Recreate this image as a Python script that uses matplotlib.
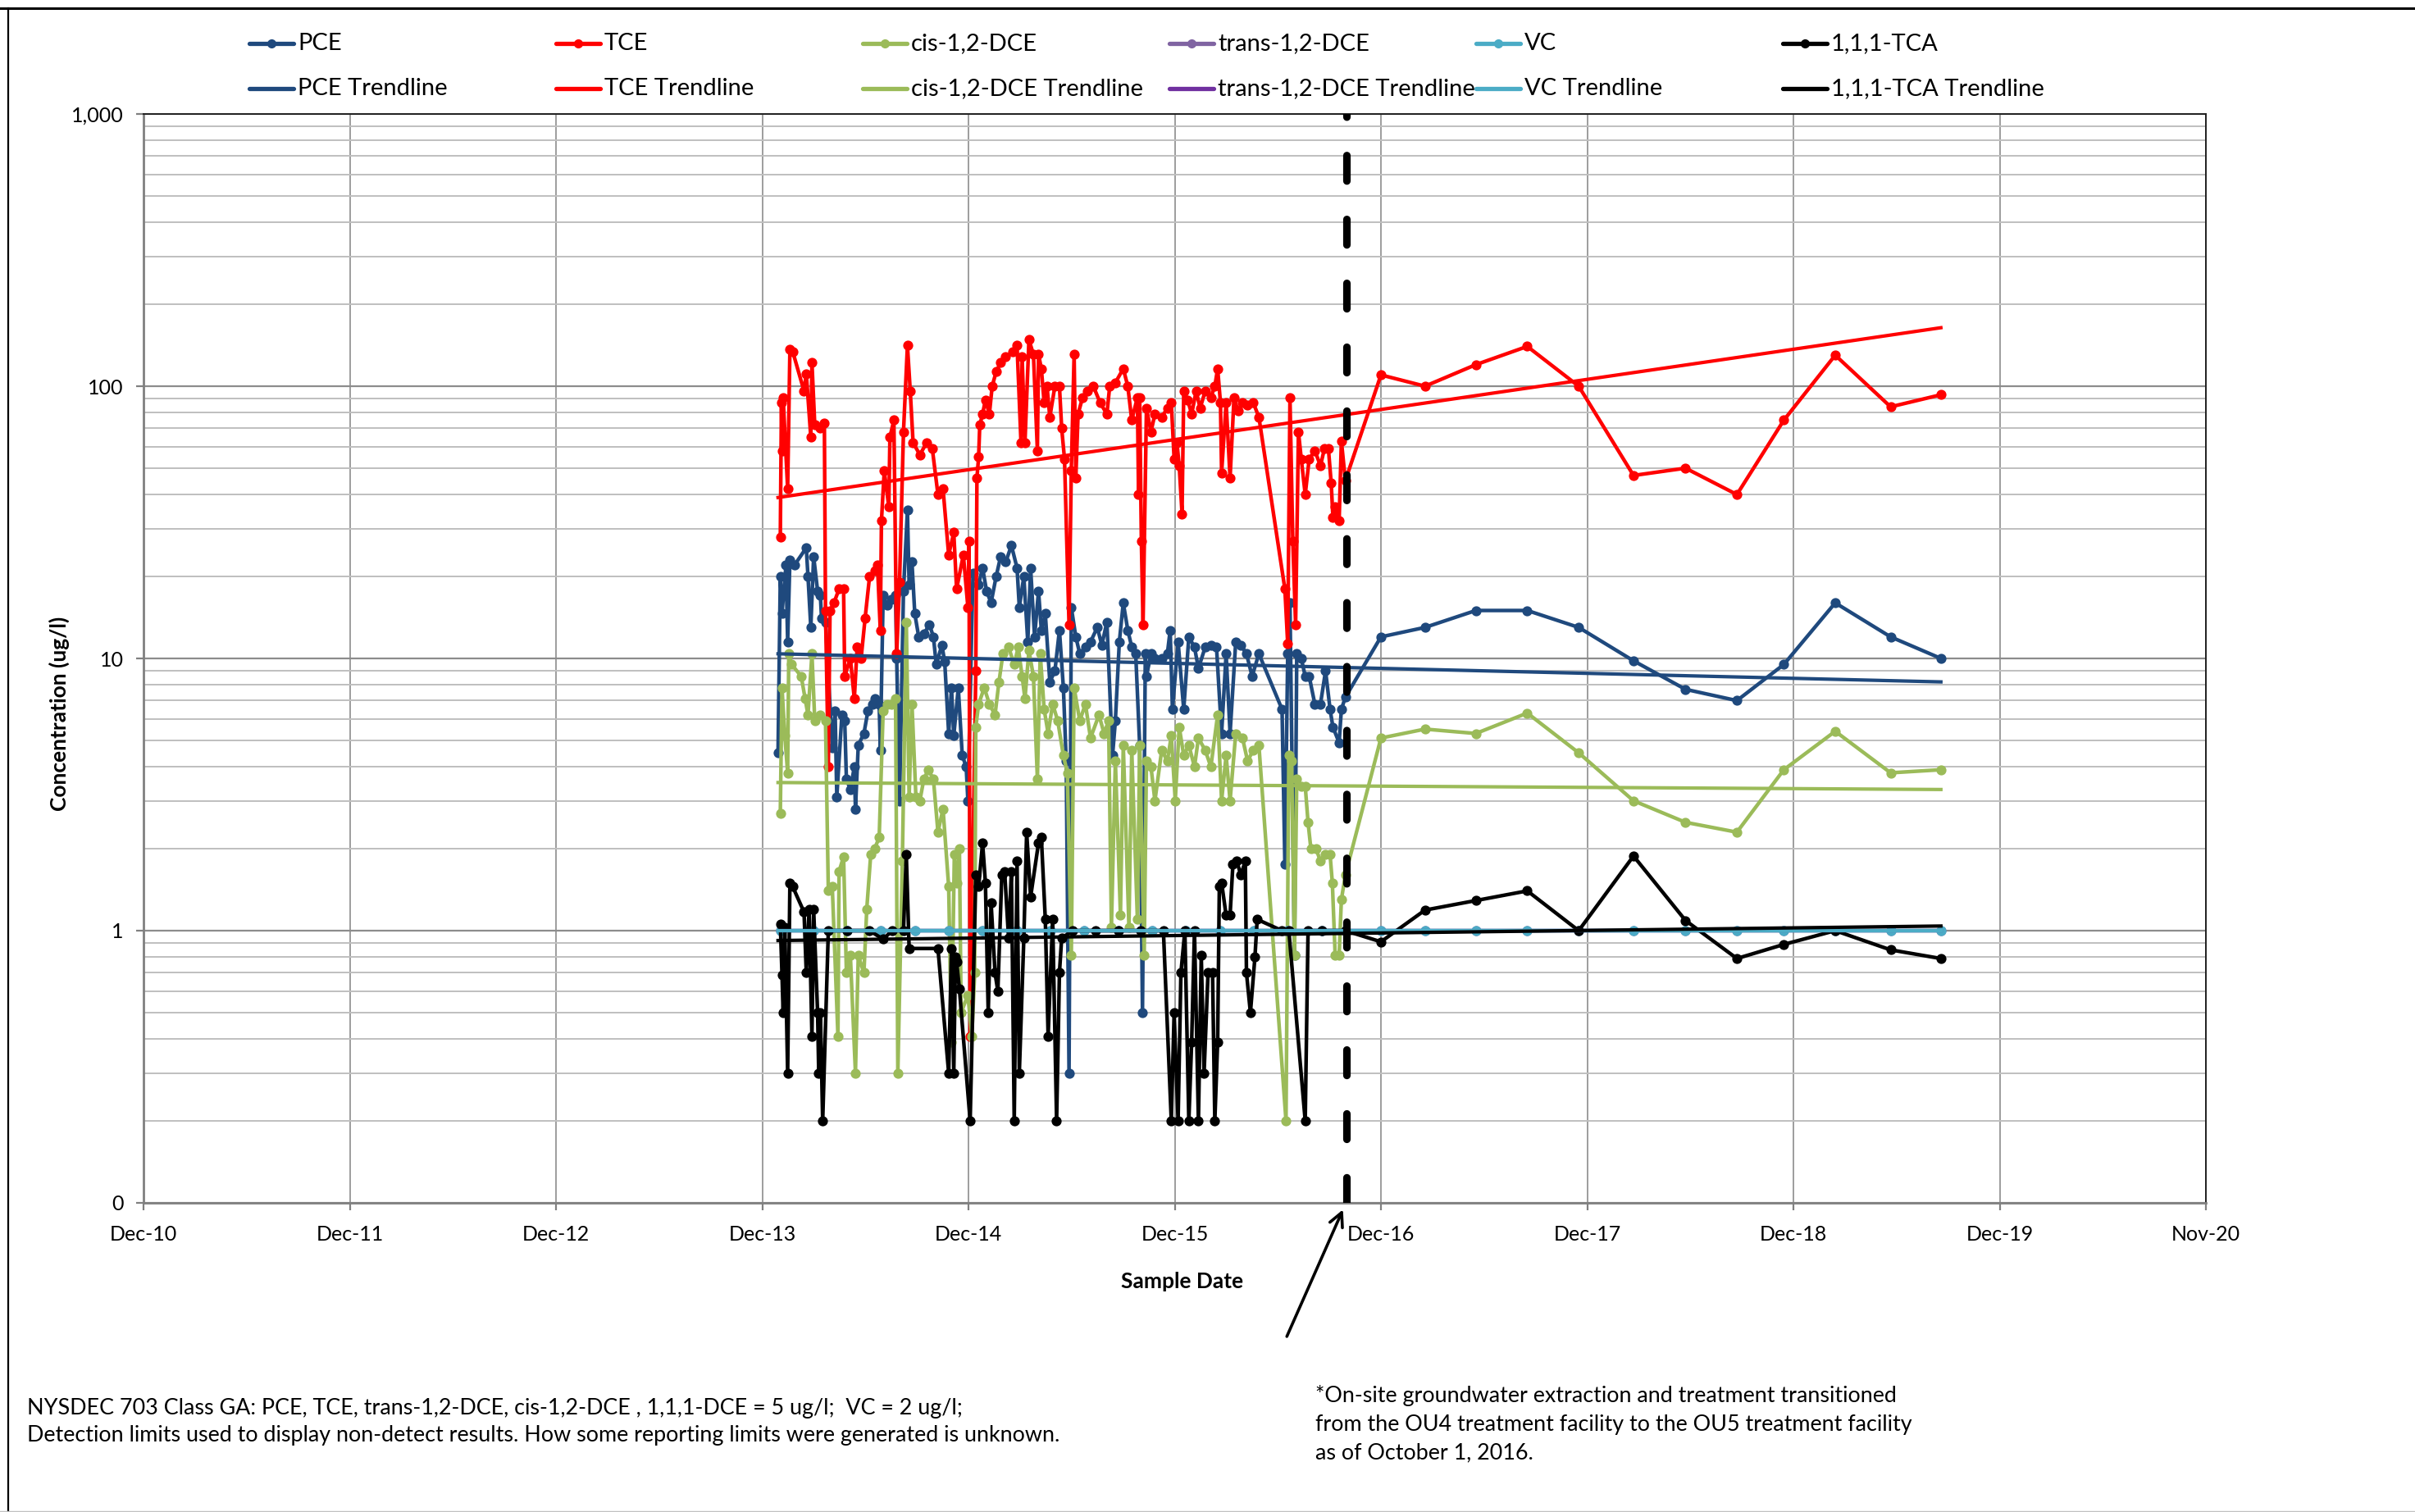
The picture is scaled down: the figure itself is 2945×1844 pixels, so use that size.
"""Groundwater VOC concentrations vs. sample date (log scale) with exponential trendlines."""

import numpy as np
import pandas as pd
import matplotlib

matplotlib.use("Agg")
import matplotlib.pyplot as plt
import matplotlib.dates as mdates
from matplotlib.lines import Line2D
from matplotlib.patches import FancyArrowPatch
from matplotlib.ticker import FuncFormatter, LogLocator, NullFormatter

# sample dates are Excel serial day numbers, as they came out of the workbook
EXCEL_EPOCH = "1899-12-30"

# ---- OU4 period (frequent plant samples) ----
tce_serial = [
    41642, 41644, 41645, 41647, 41655, 41659, 41664, 41684, 41688, 41696,
    41698, 41703, 41713, 41720, 41722, 41727, 41730, 41737, 41746, 41754,
    41756, 41766, 41773, 41778, 41785, 41792, 41800, 41809, 41814, 41819,
    41821, 41826, 41834, 41836, 41843, 41848, 41853, 41860, 41867, 41872,
    41877, 41889, 41901, 41911, 41921, 41930, 41940, 41949, 41954, 41966,
    41974, 41976, 41978, 41988, 41990, 41993, 41995, 42000, 42005, 42012,
    42017, 42024, 42032, 42041, 42053, 42061, 42068, 42070, 42075, 42082,
    42090, 42097, 42099, 42104, 42109, 42114, 42119, 42128, 42136, 42140,
    42145, 42153, 42157, 42162, 42165, 42169, 42177, 42186, 42196, 42208,
    42220, 42225, 42235, 42249, 42257, 42264, 42274, 42276, 42278, 42281,
    42284, 42290, 42298, 42305, 42317, 42327, 42334, 42339, 42344, 42348,
    42353, 42356, 42363, 42370, 42378, 42385, 42394, 42404, 42411, 42416,
    42421, 42423, 42431, 42438, 42445, 42452, 42460, 42469, 42479, 42489,
    42535, 42540, 42544, 42549, 42554, 42559, 42564, 42571, 42578, 42588,
    42598, 42605, 42612, 42617, 42620, 42624, 42631, 42635, 42642,
]
tce_vals = [
    28, 87, 58, 91, 42, 137, 134, 96, 111, 65,
    122, 72, 70, 73, 15, 4.0, 15, 16, 18, 18,
    8.6, 10, 7.1, 11, 10, 14, 20, 21, 22, 12.7,
    32, 49, 36, 65, 75, 10.4, 19, 68, 141, 96,
    62, 56, 62, 59, 40, 42, 24, 29, 18, 24,
    15.4, 27, 0.41, 9.0, 46, 55, 72, 79, 89, 79,
    100, 113, 122, 128, 134, 141, 62, 128, 62, 148,
    131, 58, 131, 116, 87, 100, 77, 100, 100, 70,
    54, 13.3, 49, 131, 46, 79, 91, 96, 100, 87,
    79, 100, 103, 116, 100, 75, 91, 40, 91, 27,
    13.3, 83, 68, 79, 77, 83, 87, 54, 62, 51,
    34, 96, 89, 79, 96, 83, 96, 91, 100, 116,
    87, 48, 87, 46, 91, 81, 87, 85, 87, 77,
    18, 11.3, 91, 27, 13.3, 68, 54, 40, 54, 58,
    51, 59, 59, 44, 33, 36, 32, 63, 45,
]

pce_serial = [
    41638, 41642, 41645, 41652, 41655, 41659, 41667, 41688, 41691, 41696,
    41701, 41708, 41713, 41715, 41722, 41734, 41739, 41742, 41751, 41756,
    41759, 41766, 41773, 41775, 41780, 41790, 41797, 41805, 41809, 41817,
    41819, 41824, 41831, 41838, 41846, 41848, 41853, 41860, 41867, 41870,
    41875, 41880, 41887, 41896, 41906, 41913, 41918, 41928, 41933, 41940,
    41945, 41949, 41957, 41964, 41971, 41974, 41983, 41993, 42000, 42007,
    42015, 42024, 42032, 42041, 42051, 42061, 42065, 42073, 42080, 42085,
    42092, 42099, 42104, 42111, 42119, 42128, 42136, 42143, 42148, 42153,
    42157, 42165, 42172, 42182, 42191, 42203, 42211, 42220, 42230, 42235,
    42242, 42249, 42257, 42264, 42271, 42278, 42283, 42288, 42290, 42298,
    42305, 42317, 42327, 42332, 42336, 42346, 42356, 42365, 42375, 42382,
    42394, 42404, 42414, 42423, 42431, 42438, 42448, 42457, 42467, 42477,
    42489, 42530, 42535, 42540, 42544, 42552, 42556, 42564, 42571, 42578,
    42588, 42598, 42607, 42615, 42620, 42631, 42635, 42642,
]
pce_vals = [
    4.5, 20, 14.6, 22, 11.5, 23, 22, 25.5, 20, 13,
    23.7, 17.7, 17, 14, 13.6, 4.7, 6.4, 3.1, 6.2, 5.9,
    3.6, 3.3, 4.0, 2.8, 4.8, 5.3, 6.4, 6.8, 7.1, 6.8,
    4.6, 17, 15.7, 16.5, 17, 10, 3.0, 17.7, 35, 18.7,
    22.6, 14.6, 12, 12.3, 13.3, 12, 9.5, 11.2, 9.7, 5.3,
    7.8, 5.2, 7.8, 4.4, 4.0, 3.0, 20.5, 18.7, 21.5, 17.7,
    16, 20, 23.7, 22.6, 26, 21.5, 15.4, 20, 11.5, 21.5,
    12, 17.7, 12.7, 14.6, 8.2, 9.0, 12.7, 7.8, 4.2, 0.30,
    15.4, 12, 10.4, 11, 11.5, 13, 11.2, 13.6, 4.4, 5.9,
    11.5, 16, 12.7, 11, 10.4, 4.8, 0.5, 10.4, 8.6, 10.4,
    10, 10, 10.4, 12.7, 6.5, 11.5, 6.5, 12, 11, 9.2,
    11, 11.2, 11, 5.3, 10.4, 5.3, 11.5, 11.2, 10.4, 8.6,
    10.4, 6.5, 1.75, 10.4, 16, 0.81, 10.4, 10, 8.6, 8.6,
    6.8, 6.8, 9.0, 6.5, 5.6, 4.9, 6.5, 7.2,
]

cis_serial = [
    41642, 41645, 41650, 41655, 41657, 41662, 41679, 41686, 41691, 41698,
    41703, 41713, 41722, 41727, 41734, 41744, 41746, 41754, 41759, 41766,
    41775, 41780, 41790, 41795, 41802, 41809, 41817, 41824, 41831, 41838,
    41846, 41850, 41858, 41865, 41870, 41875, 41882, 41889, 41896, 41904,
    41913, 41921, 41930, 41940, 41945, 41950, 41955, 41959, 41962, 41974,
    41981, 41986, 41988, 41993, 42003, 42012, 42022, 42029, 42036, 42046,
    42056, 42063, 42070, 42075, 42082, 42090, 42097, 42102, 42109, 42116,
    42124, 42133, 42143, 42150, 42157, 42162, 42172, 42182, 42191, 42206,
    42215, 42223, 42228, 42235, 42244, 42249, 42259, 42264, 42274, 42278,
    42286, 42290, 42298, 42305, 42317, 42327, 42334, 42341, 42348, 42356,
    42365, 42375, 42382, 42394, 42404, 42416, 42423, 42431, 42438, 42448,
    42460, 42469, 42479, 42489, 42537, 42542, 42547, 42552, 42556, 42564,
    42571, 42576, 42581, 42590, 42598, 42607, 42615, 42619, 42624, 42631,
    42635, 42642,
]
cis_vals = [
    2.7, 7.8, 5.2, 3.8, 10.4, 9.5, 8.6, 7.1, 6.2, 10.4,
    5.9, 6.2, 5.9, 1.4, 1.45, 0.41, 1.65, 1.87, 0.7, 0.81,
    0.30, 0.81, 0.7, 1.2, 1.9, 2.0, 2.2, 6.4, 6.8, 6.8,
    7.1, 0.30, 1.8, 13.6, 3.1, 6.8, 3.1, 3.0, 3.6, 3.9,
    3.6, 2.3, 2.8, 1.45, 0.39, 1.9, 1.5, 2.0, 0.5, 0.58,
    0.41, 0.7, 5.6, 6.8, 7.8, 6.8, 6.2, 8.2, 10.4, 11,
    9.5, 11, 8.6, 7.1, 10.7, 8.6, 3.6, 10.4, 6.5, 5.3,
    6.8, 5.9, 4.4, 3.8, 0.81, 7.8, 5.9, 6.8, 5.1, 6.2,
    5.3, 5.9, 1.03, 4.2, 1.14, 4.8, 1.03, 4.6, 1.1, 4.8,
    0.81, 4.2, 4.0, 3.0, 4.6, 4.2, 5.2, 3.0, 5.6, 4.4,
    4.8, 4.0, 5.1, 4.6, 4.0, 6.2, 3.0, 4.4, 3.0, 5.3,
    5.1, 4.2, 4.6, 4.8, 0.2, 4.4, 4.2, 0.81, 3.6, 3.4,
    3.4, 2.5, 2.0, 2.0, 1.8, 1.9, 1.9, 1.5, 0.81, 0.81,
    1.3, 1.6,
]

tca_serial = [
    41642, 41645, 41647, 41650, 41655, 41659, 41664, 41684, 41688, 41693,
    41698, 41701, 41708, 41710, 41713, 41717, 41727, 41760, 41800, 41824,
    41840, 41860, 41865, 41870, 41921, 41940, 41945, 41949, 41952, 41954,
    41959, 41978, 41988, 41993, 42000, 42005, 42010, 42015, 42022, 42027,
    42034, 42039, 42046, 42051, 42056, 42061, 42065, 42073, 42078, 42085,
    42099, 42104, 42111, 42116, 42124, 42131, 42136, 42140, 42160, 42200,
    42240, 42280, 42320, 42334, 42339, 42346, 42351, 42358, 42365, 42370,
    42375, 42382, 42387, 42392, 42399, 42407, 42411, 42416, 42419, 42423,
    42431, 42438, 42443, 42450, 42457, 42465, 42467, 42474, 42482, 42486,
    42530, 42542, 42571, 42576, 42600, 42642,
]
tca_vals = [
    1.06, 0.69, 0.5, 1.03, 0.30, 1.5, 1.45, 1.17, 0.70, 1.2,
    0.41, 1.2, 0.5, 0.30, 0.5, 0.2, 1.0, 1.0, 1.0, 0.93,
    1.0, 1.0, 1.9, 0.86, 0.86, 0.30, 0.86, 0.30, 0.8, 0.77,
    0.61, 0.2, 1.6, 1.45, 2.1, 1.5, 0.5, 1.27, 0.70, 0.60,
    1.6, 1.65, 0.94, 1.65, 0.2, 1.8, 0.30, 0.94, 2.3, 1.33,
    2.1, 2.2, 1.1, 0.41, 1.1, 0.2, 0.70, 0.94, 1.0, 1.0,
    1.0, 1.0, 1.0, 0.2, 0.5, 0.2, 0.7, 1.0, 0.2, 0.39,
    1.0, 0.2, 0.81, 0.3, 0.70, 0.70, 0.2, 0.39, 1.45, 1.5,
    1.14, 1.14, 1.75, 1.8, 1.6, 1.8, 0.70, 0.5, 0.8, 1.1,
    1.0, 1.0, 0.2, 1.0, 1.0, 1.0,
]

# VC and trans-1,2-DCE were never detected (plotted at the 1 ug/l reporting limit)
nd_serial = [
    41642, 41700, 41760, 41820, 41880, 41940, 42000, 42060, 42120, 42180,
    42240, 42300, 42360, 42420, 42480, 42540, 42600, 42642,
]
vc_vals = [1.0, 1.0, 1.0, 1.0, 1.0, 1.0, 1.0, 1.0, 1.0, 1.0,
           1.0, 1.0, 1.0, 1.0, 1.0, 1.0, 1.0, 1.0]
trans_vals = [1.0, 1.0, 1.0, 1.0, 1.0, 1.0, 1.0, 1.0, 1.0, 1.0,
              1.0, 1.0, 1.0, 1.0, 1.0, 1.0, 1.0, 1.0]

# ---- OU5 period (quarterly samples) ----
post_serial = [42705, 42783, 42873, 42964, 43055, 43152, 43244, 43335, 43418, 43509, 43607, 43696]
tce_post = [110, 100, 120, 140, 100, 47, 50, 40, 75, 130, 84, 93]
pce_post = [12, 13, 15, 15, 13, 9.8, 7.7, 7.0, 9.5, 16, 12, 10]
cis_post = [5.1, 5.5, 5.3, 6.3, 4.5, 3.0, 2.5, 2.3, 3.9, 5.4, 3.8, 3.9]
tca_post = [0.91, 1.19, 1.29, 1.4, 1.0, 1.88, 1.09, 0.79, 0.89, 1.0, 0.85, 0.79]
vc_post = [1.0, 1.0, 1.0, 1.0, 1.0, 1.0, 1.0, 1.0, 1.0, 1.0, 1.0, 1.0]
trans_post = [1.0, 1.0, 1.0, 1.0, 1.0, 1.0, 1.0, 1.0, 1.0, 1.0, 1.0, 1.0]

# exponential trendlines (Excel), first and last sample date
trend_serial = [41638, 43696]
pce_trend = [10.4, 8.2]
tce_trend = [39, 164]
cis_trend = [3.5, 3.3]
trans_trend = [1.0, 1.0]
vc_trend = [1.0, 1.0]
tca_trend = [0.92, 1.04]

axis_start_serial = 40515
axis_tick_days = 365
axis_n_ticks = 11
transition_date = "2016-10-01"

W, H = 2945, 1844
DPI = 200


def to_dates(serials):
    return pd.to_datetime(np.asarray(serials, dtype=float), unit="D", origin=EXCEL_EPOCH)


def fx(px):
    return px / W


def fy(py):
    return 1 - py / H


for s, v in [(tce_serial, tce_vals), (pce_serial, pce_vals), (cis_serial, cis_vals),
             (tca_serial, tca_vals), (nd_serial, vc_vals), (nd_serial, trans_vals)]:
    assert len(s) == len(v)

plt.rcParams["font.family"] = ["Lato", "DejaVu Sans"]

fig = plt.figure(figsize=(W / DPI, H / DPI), dpi=DPI)
ax = fig.add_axes([fx(175), fy(1467), (2690 - 175) / W, (1467 - 139) / H])

# name, dense dates, dense values, post values, series colour, trend values, trend colour
series = [
    ("PCE", pce_serial, pce_vals, pce_post, "#1F497D", pce_trend, "#1F497D"),
    ("TCE", tce_serial, tce_vals, tce_post, "#FF0000", tce_trend, "#FF0000"),
    ("cis-1,2-DCE", cis_serial, cis_vals, cis_post, "#9BBB59", cis_trend, "#9BBB59"),
    ("trans-1,2-DCE", nd_serial, trans_vals, trans_post, "#8064A2", trans_trend, "#7030A0"),
    ("VC", nd_serial, vc_vals, vc_post, "#4BACC6", vc_trend, "#4BACC6"),
    ("1,1,1-TCA", tca_serial, tca_vals, tca_post, "#000000", tca_trend, "#000000"),
]

for z, (name, ser, vals, post, color, trend, tcolor) in enumerate(series):
    x = to_dates(list(ser) + post_serial)
    y = list(vals) + post
    ax.plot(x, y, color=color, lw=1.6, marker="o", ms=3.4, mec=color, mfc=color,
            zorder=3 + z)
for name, ser, vals, post, color, trend, tcolor in series:
    ax.plot(to_dates(trend_serial), trend, color=tcolor, lw=1.5, zorder=10)

# transition OU4 -> OU5
ax.axvline(pd.Timestamp(transition_date), color="black", lw=3.3, dashes=(3.4, 5.1),
           dash_capstyle="round", zorder=12)

ax.set_yscale("log")
ax.set_ylim(0.1, 1000)
ax.yaxis.set_major_locator(LogLocator(base=10))
ax.yaxis.set_minor_locator(LogLocator(base=10, subs=np.arange(2, 10)))
ax.yaxis.set_minor_formatter(NullFormatter())
ax.yaxis.set_major_formatter(FuncFormatter(lambda v, _: f"{v:,.0f}"))

tick_dates = to_dates([axis_start_serial + axis_tick_days * k for k in range(axis_n_ticks)])
ax.set_xlim(tick_dates[0], tick_dates[-1])
ax.set_xticks(tick_dates)
ax.xaxis.set_major_formatter(mdates.DateFormatter("%b-%y"))

ax.set_axisbelow(True)
ax.grid(True, which="major", axis="x", color="#8c8c8c", lw=0.6)
ax.grid(True, which="major", axis="y", color="#8c8c8c", lw=0.8)
ax.grid(True, which="minor", axis="y", color="#bfbfbf", lw=0.7)

ax.tick_params(axis="x", which="major", length=3.2, width=0.8, color="#808080", pad=6.5,
               labelsize=9)
ax.tick_params(axis="y", which="major", length=3.2, width=0.8, color="#808080", pad=5.5,
               labelsize=9)
ax.tick_params(axis="y", which="minor", length=0)
for side in ("top", "right"):
    ax.spines[side].set_color("#202020")
    ax.spines[side].set_linewidth(0.7)
for side in ("left", "bottom"):
    ax.spines[side].set_color("#808080")
    ax.spines[side].set_linewidth(1.0)

# legend laid out like the Excel chart: series on row 1, trendlines on row 2
for i, (name, ser, vals, post, color, trend, tcolor) in enumerate(series):
    x0 = 304 + 374 * i
    xs = [fx(x0), fx(x0 + 27), fx(x0 + 54)]
    fig.add_artist(Line2D(xs, [fy(53)] * 3, color=color, lw=1.9, marker="o", ms=3,
                          markevery=[1], solid_capstyle="round"))
    fig.add_artist(Line2D(xs, [fy(108)] * 3, color=tcolor, lw=1.9,
                          solid_capstyle="round"))
    fig.text(fx(x0 + 59), fy(53), name, ha="left", va="center", fontsize=10.5)
    fig.text(fx(x0 + 59), fy(108), name + " Trendline", ha="left", va="center",
             fontsize=10.5)

fig.text(fx(72), fy(870), "Concentration (ug/l)", rotation=90, ha="center",
         va="center", fontsize=9.5, fontweight="bold")
fig.text(fx(1442), fy(1563), "Sample Date", ha="center", va="center", fontsize=9.5,
         fontweight="bold")

fig.text(fx(33), fy(1717),
         "NYSDEC 703 Class GA: PCE, TCE, trans-1,2-DCE, cis-1,2-DCE , 1,1,1-DCE = 5 ug/l;  VC = 2 ug/l;",
         ha="left", va="center", fontsize=9.7)
fig.text(fx(33), fy(1750),
         "Detection limits used to display non-detect results. How some reporting limits were generated is unknown.",
         ha="left", va="center", fontsize=9.7)

note_lines = [
    "*On-site groundwater extraction and treatment transitioned",
    "from the OU4 treatment facility to the OU5 treatment facility",
    "as of October 1, 2016.",
]
for line, py in zip(note_lines, [1702, 1737, 1772]):
    fig.text(fx(1604), fy(py), line, ha="left", va="center", fontsize=9.7)

fig.add_artist(FancyArrowPatch((fx(1567), fy(1635)), (fx(1640), fy(1470)),
                               transform=fig.transFigure, arrowstyle="->,head_length=0.6,head_width=0.3",
                               mutation_scale=10, lw=1.3, color="black"))

# outer chart border
fig.add_artist(Line2D([0, 1], [fy(10), fy(10)], color="black", lw=1.1))
fig.add_artist(Line2D([fx(10), fx(10)], [fy(10), 0], color="black", lw=0.8))
fig.add_artist(Line2D([0, 1], [fy(1843), fy(1843)], color="#c0c0c0", lw=0.5))

fig.savefig("out.png", dpi=DPI)
